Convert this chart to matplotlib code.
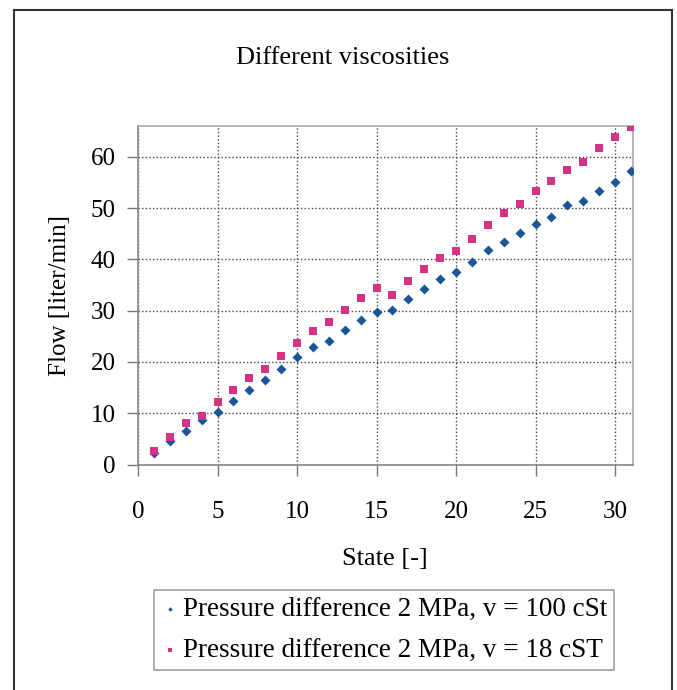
import matplotlib
matplotlib.use("Agg")
import matplotlib.pyplot as plt
from matplotlib.patches import Rectangle

state = list(range(1, 32))
flow_100cst = [2.2, 4.5, 6.6, 8.6, 10.3, 12.4, 14.6, 16.5, 18.6, 20.9,
               23.0, 24.1, 26.3, 28.2, 29.8, 30.2, 32.2, 34.2, 36.2, 37.5,
               39.4, 41.8, 43.3, 45.1, 46.8, 48.3, 50.5, 51.4, 53.3, 55.1, 57.2]
flow_18cst = [2.7, 5.4, 8.0, 9.5, 12.1, 14.5, 16.9, 18.7, 21.2, 23.7,
              26.1, 27.8, 30.1, 32.4, 34.5, 33.0, 35.7, 38.2, 40.3, 41.6,
              44.0, 46.7, 49.0, 50.8, 53.3, 55.3, 57.5, 58.9, 61.7, 63.9, 65.8]
label_100 = "Pressure difference 2 MPa, v = 100 cSt"
label_18 = "Pressure difference 2 MPa, v = 18 cST"
title = "Different viscosities"
xlabel = "State [-]"
ylabel = "Flow [liter/min]"
xticks = [0, 5, 10, 15, 20, 25, 30]
yticks = [0, 10, 20, 30, 40, 50, 60]

plt.rcParams['font.family'] = ['Liberation Serif', 'DejaVu Serif']

W, H = 677, 690
fig = plt.figure(figsize=(W / 100, H / 100), dpi=100)
fig.patch.set_facecolor('white')

# outer frame
fig.patches.append(Rectangle((14 / W, -0.05), (672 - 14) / W, (H - 10) / H + 0.05,
                             transform=fig.transFigure, fill=False,
                             edgecolor='#333333', linewidth=1.5, clip_on=False))

ax = fig.add_axes([138 / W, (H - 464.5) / H, (632.5 - 138) / W, (464.5 - 126) / H])

ax.scatter(state, flow_100cst, marker='D', s=26, color='#1c5597', label=label_100, zorder=3, linewidths=0)
ax.scatter(state, flow_18cst, marker='s', s=32, color='#d63384', label=label_18, zorder=3, linewidths=0)

ax.set_xlim(0, 31.1)
ax.set_ylim(0, 66)
ax.set_xticks(xticks)
ax.set_yticks(yticks)
ax.tick_params(axis='both', labelsize=18, color='#777777', length=8, width=1, direction='out')
ax.tick_params(axis='x', pad=18)
ax.tick_params(axis='y', pad=8)
ax.grid(True, linestyle=(0, (1.0, 1.6)), color='#444444', linewidth=1.0)
ax.set_axisbelow(True)
for side in ['top', 'right']:
    ax.spines[side].set_color('#aaaaaa')
    ax.spines[side].set_linewidth(1.2)
for side in ['left', 'bottom']:
    ax.spines[side].set_color('#888888')
    ax.spines[side].set_linewidth(1.2)

ax.set_xlabel(xlabel, fontsize=19, labelpad=18)
ax.set_ylabel(ylabel, fontsize=18, labelpad=14)
fig.text(343 / W, 1 - 58 / H, title, fontsize=19, ha='center', va='center')

leg = ax.legend(loc='center', bbox_to_anchor=(384 / W, 1 - 630 / H), bbox_transform=fig.transFigure,
                fontsize=19.5, frameon=True, fancybox=False, edgecolor='#888888',
                markerscale=0.45, handletextpad=0.15, handlelength=0.7, borderpad=0.25,
                borderaxespad=0, labelspacing=0.6)
leg.get_frame().set_linewidth(1.2)

fig.savefig("out.png", dpi=100)
